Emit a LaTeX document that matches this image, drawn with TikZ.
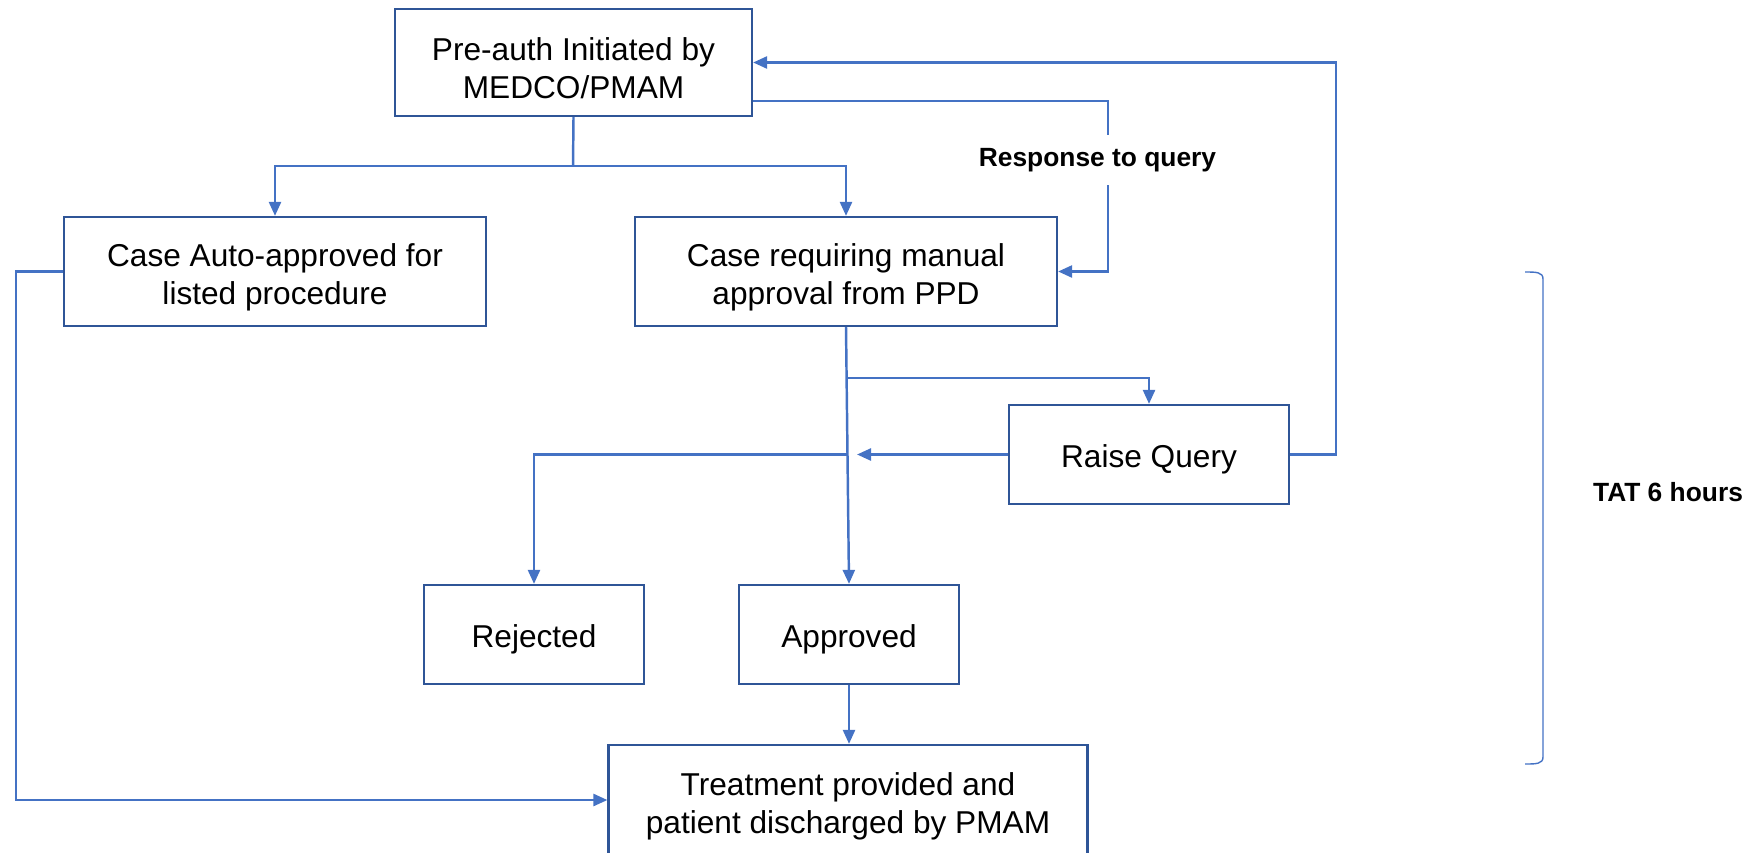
\documentclass[tikz,border=0pt]{standalone}
\usepackage{fontspec}
\setmainfont{Liberation Sans}
\usetikzlibrary{arrows.meta}
\definecolor{flow}{HTML}{4472C4}
\definecolor{edge}{HTML}{2F5597}
% extra room above the first line of a box
\newcommand\firstline{\rule{0pt}{20pt}}

\begin{document}
\begin{tikzpicture}[x=0.02cm,y=-0.02cm,
  box/.style={draw=edge, line width=1.3pt, fill=white, align=center, inner sep=0pt,
    font=\fontsize{18}{21.6}\selectfont},
  onebox/.style={box, execute at begin node={\rule{0pt}{18.8pt}}},
  link/.style={draw=flow, line width=1.4pt},
  arr/.style={link, -{Triangle[length=0.28cm,width=0.24cm]}},
  note/.style={font=\fontsize{15}{18}\selectfont\bfseries, inner sep=0pt},
  ]
\useasboundingbox (0,0) rectangle (1763,852);

% process boxes
\node[box, minimum width=7.14cm, minimum height=2.14cm] (top) at (573.5,62.5)
  {\firstline Pre-auth Initiated by\\MEDCO/PMAM};
\node[box, minimum width=8.44cm, minimum height=2.18cm] (auto) at (275,271.5)
  {\firstline Case Auto-approved for\\listed procedure};
\node[box, minimum width=8.44cm, minimum height=2.18cm] (manual) at (846,271.5)
  {\firstline Case requiring manual\\approval from PPD};
\node[onebox, minimum width=5.6cm, minimum height=1.98cm] (raise) at (1149,454.5)
  {Raise Query};
\node[onebox, minimum width=4.4cm, minimum height=1.98cm] (rejected) at (534,634.5)
  {Rejected};
\node[onebox, minimum width=4.4cm, minimum height=1.98cm] (approved) at (849,634.5)
  {Approved};
\node[box, minimum width=9.58cm, minimum height=2.2cm] (treat) at (848,800)
  {\firstline Treatment provided and\\patient discharged by PMAM};

% split below the initiating box
\coordinate (split) at (573,166);
\draw[link] (top.south) -- (split);
\draw[arr] (split) -| (auto.north);
\draw[arr] (split) -| (manual.north);

% response to query loop
\coordinate (resp) at (1108,0);
\draw[arr] (top.east |- 0,101) -| (resp |- manual.east) -- (manual.east);
\node[note, fill=white, inner xsep=2pt, inner ysep=0.27cm] (resplabel) at (1097.5,160)
  {Response to query};

% query goes back to the initiator
\coordinate (back) at (1336,0);
\draw[arr] (raise.east) -| (back |- top.east) -- (top.east);

% manual review outcomes
\draw[arr] (manual.south) -- (approved.north);
\coordinate (toquery) at (847,378);
\draw[arr] (toquery) -| (raise.north);
\coordinate (qend) at (857,454.5);
\draw[arr] (raise.west) -- (qend);
\coordinate (toreject) at (847,454.5);
\draw[arr] (toreject) -| (rejected.north);

% to treatment
\draw[arr] (approved.south) -- (approved.south |- treat.north);
\coordinate (lane) at (16,0);
\draw[arr] (auto.west) -- (lane |- auto.west) |- (treat.west);

% turnaround bracket
\draw[flow, line width=0.8pt] (1525,272) .. controls (1536,272) and (1543,272) .. (1543,279)
  -- (1543,757) .. controls (1543,764) and (1536,764) .. (1525,764);
\node[note] (tat) at (1668,492) {TAT 6 hours};
\end{tikzpicture}
\end{document}
